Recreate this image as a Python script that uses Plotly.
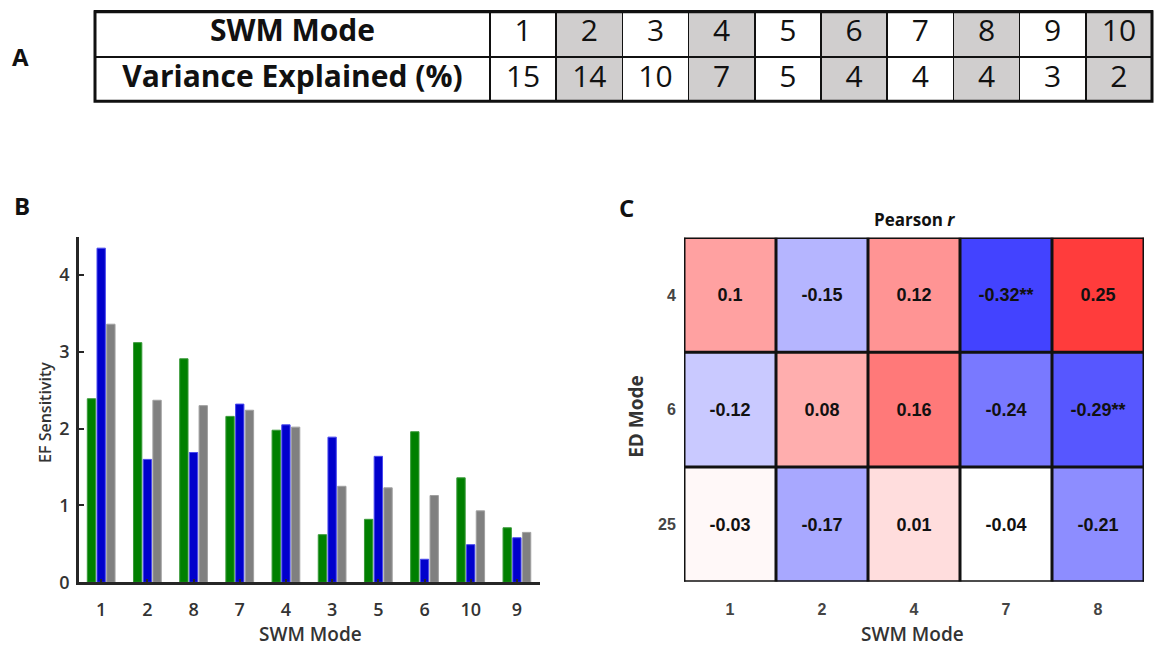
import plotly.graph_objects as go

# ---- Panel A: variance explained per SWM mode ----
swm_modes = [1, 2, 3, 4, 5, 6, 7, 8, 9, 10]
variance_pct = [15, 14, 10, 7, 5, 4, 4, 4, 3, 2]

# ---- Panel B: EF sensitivity by SWM mode (three series) ----
bar_modes = ["1", "2", "8", "7", "4", "3", "5", "6", "10", "9"]
sens_green = [2.39, 3.12, 2.91, 2.16, 1.98, 0.62, 0.82, 1.96, 1.36, 0.71]
sens_blue = [4.35, 1.60, 1.69, 2.32, 2.05, 1.89, 1.64, 0.30, 0.49, 0.58]
sens_gray = [3.36, 2.37, 2.30, 2.24, 2.02, 1.25, 1.23, 1.13, 0.93, 0.65]

# ---- Panel C: Pearson r between ED modes and SWM modes ----
hm_swm = ["1", "2", "4", "7", "8"]
hm_ed = ["4", "6", "25"]
pearson_r = [
    [0.10, -0.15, 0.12, -0.32, 0.25],
    [-0.12, 0.08, 0.16, -0.24, -0.29],
    [-0.03, -0.17, 0.01, -0.04, -0.21],
]
signif = [
    ["", "", "", "**", ""],
    ["", "", "", "", "**"],
    ["", "", "", "", ""],
]

W, H = 1154, 652


def px_x(p):
    return p / W


def px_y(p):
    return 1 - p / H


UI_FONT = "Open Sans"
ARIAL = "Liberation Sans"

fig = go.Figure()

# ---------------- Table (A) ----------------
gray_fill = "#D0CECE"
col_fill = ["white"] + [gray_fill if m % 2 == 0 else "white" for m in swm_modes]
col_weight = ["bold"] + ["normal"] * len(swm_modes)
fig.add_trace(go.Table(
    domain=dict(x=[px_x(95), px_x(1152)], y=[px_y(104), px_y(11)]),
    columnwidth=[395] + [66.2] * len(swm_modes),
    header=dict(
        values=["SWM Mode"] + [str(m) for m in swm_modes],
        fill=dict(color=col_fill),
        line=dict(color="#111111", width=1.5),
        font=dict(family=UI_FONT, size=30, color="#111111", weight=col_weight),
        align="center",
        height=46,
    ),
    cells=dict(
        values=[["Variance Explained (%)"]] + [[str(v)] for v in variance_pct],
        fill=dict(color=col_fill),
        line=dict(color="#111111", width=1.5),
        font=dict(family=UI_FONT, size=30, color="#111111", weight=col_weight),
        align="center",
        height=46,
    ),
))

# ---------------- Bars (B) ----------------
for vals, col, edge in [
    (sens_green, "#008000", "#3a9a3a"),
    (sens_blue, "#0000CC", "#4a4aee"),
    (sens_gray, "#808080", "#a0a0a0"),
]:
    fig.add_trace(go.Bar(
        x=bar_modes, y=vals, xaxis="x", yaxis="y",
        marker=dict(color=col, line=dict(color=edge, width=1)),
        showlegend=False,
    ))

# ---------------- Heatmap (C) ----------------
hm_text = [[f"{v:g}{s}" for v, s in zip(row, srow)] for row, srow in zip(pearson_r, signif)]
fig.add_trace(go.Heatmap(
    z=pearson_r, x=hm_swm, y=hm_ed, xaxis="x2", yaxis="y2",
    text=hm_text, texttemplate="%{text}",
    textfont=dict(family=ARIAL, size=18, color="#111111", weight="bold"),
    colorscale=[[0, "rgb(0,0,255)"], [0.5, "rgb(255,255,255)"], [1, "rgb(255,0,0)"]],
    zmin=-0.42, zmax=0.34, showscale=False,
))

axis_line = "#262626"
tick_font_b = dict(family=UI_FONT, size=18, color="#333333", weight=600)
tick_font_c = dict(family=ARIAL, size=16, color="#444444", weight="bold")

fig.update_layout(
    width=W, height=H,
    margin=dict(l=0, r=0, t=0, b=0),
    paper_bgcolor="white", plot_bgcolor="white",
    barmode="group", bargap=0.37, bargroupgap=0.14,
    xaxis=dict(
        domain=[px_x(79), px_x(540)], anchor="y",
        type="category", range=[-0.48, 9.5],
        showline=True, linecolor=axis_line, linewidth=2.5,
        ticks="inside", ticklen=4, tickwidth=2, tickcolor=axis_line,
        tickfont=tick_font_b, ticklabelstandoff=9,
        showgrid=False, zeroline=False,
    ),
    yaxis=dict(
        domain=[px_y(592.3), px_y(240.7)], anchor="x",
        range=[0, 4.5], tickvals=[0, 1, 2, 3, 4],
        showline=True, linecolor=axis_line, linewidth=2.5,
        ticks="inside", ticklen=5, tickwidth=2, tickcolor=axis_line,
        tickfont=tick_font_b, ticklabelstandoff=3,
        showgrid=False, zeroline=False,
    ),
    xaxis2=dict(
        domain=[px_x(684), px_x(1144)], anchor="y2",
        type="category", range=[-0.5, 4.5],
        showline=False, ticks="outside", ticklen=13, tickcolor="rgba(0,0,0,0)",
        tickfont=tick_font_c, showgrid=False, zeroline=False,
    ),
    yaxis2=dict(
        domain=[px_y(591.7), px_y(241.7)], anchor="x2",
        type="category", range=[2.5, -0.5],
        showline=False, ticks="outside", ticklen=4, tickcolor="rgba(0,0,0,0)",
        tickfont=tick_font_c, showgrid=False, zeroline=False,
    ),
)

# heatmap cell borders
shapes = []
for i in range(len(hm_swm) + 1):
    shapes.append(dict(type="line", xref="x2", yref="y2", x0=i - 0.5, x1=i - 0.5,
                       y0=-0.5, y1=len(hm_ed) - 0.5, line=dict(color="#111111", width=3)))
for j in range(len(hm_ed) + 1):
    shapes.append(dict(type="line", xref="x2", yref="y2", y0=j - 0.5, y1=j - 0.5,
                       x0=-0.5, x1=len(hm_swm) - 0.5, line=dict(color="#111111", width=3)))
# table outer frame
shapes.append(dict(type="rect", xref="paper", yref="paper",
                   x0=px_x(95), x1=px_x(1152), y0=px_y(103), y1=px_y(12),
                   line=dict(color="#111111", width=3)))
fig.update_layout(shapes=shapes)

title_font = dict(family=UI_FONT, size=19, color="#333333", weight=600)
ann = [
    dict(text="<b>A</b>", x=px_x(20), y=px_y(57)),
    dict(text="<b>B</b>", x=px_x(22), y=px_y(209)),
    dict(text="<b>C</b>", x=px_x(626), y=px_y(211)),
]
anns = [dict(a, xref="paper", yref="paper", showarrow=False,
             font=dict(family=UI_FONT, size=24, color="#111111"),
             xanchor="center", yanchor="middle") for a in ann]
anns += [
    dict(text="SWM Mode", x=px_x(310), y=px_y(645), font=title_font),
    dict(text="EF Sensitivity", x=px_x(45), y=px_y(420), textangle=-90,
         font=dict(family=UI_FONT, size=16, color="#333333", weight=600)),
    dict(text="SWM Mode", x=px_x(912), y=px_y(645), font=title_font),
    dict(text="<b>ED Mode</b>", x=px_x(636), y=px_y(424), textangle=-90,
         font=dict(family=UI_FONT, size=19, color="#333333")),
    dict(text="<b>Pearson <i>r</i></b>", x=px_x(914), y=px_y(223),
         font=dict(family=UI_FONT, size=17, color="#111111")),
]
for a in anns[3:]:
    a.update(xref="paper", yref="paper", showarrow=False, xanchor="center", yanchor="middle")
fig.update_layout(annotations=anns)

fig.write_html("out.html")
